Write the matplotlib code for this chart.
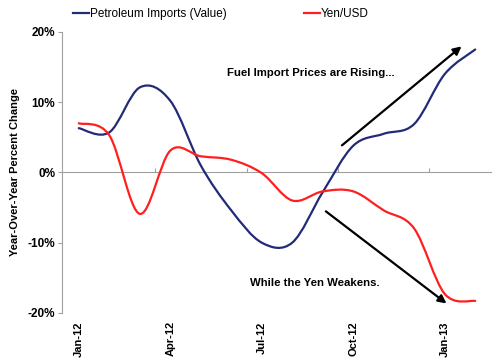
import numpy as np
import matplotlib
matplotlib.use("Agg")
import matplotlib.pyplot as plt
from matplotlib.path import Path
from matplotlib.patches import PathPatch
from matplotlib.lines import Line2D

plt.rcParams['font.family'] = ['Liberation Sans', 'DejaVu Sans']

months = ["Jan-12", "Feb-12", "Mar-12", "Apr-12", "May-12", "Jun-12", "Jul-12",
          "Aug-12", "Sep-12", "Oct-12", "Nov-12", "Dec-12", "Jan-13", "Feb-13"]
petroleum = [6.3, 5.7, 12.1, 10.2, 1.0, -5.4, -10.0, -10.0, -2.8, 3.8, 5.5, 6.9, 14.0, 17.5]
yen_usd = [7.0, 5.3, -5.9, 3.1, 2.3, 1.8, -0.1, -4.0, -2.7, -2.7, -5.4, -8.0, -17.3, -18.3]
tick_months = ["Jan-12", "Apr-12", "Jul-12", "Oct-12", "Jan-13"]

navy = "#232a78"
red = "#ff1f1f"


def smooth_path(xs, ys):
    # excel-style smoothed line: bezier through each point
    pts = np.column_stack([xs, ys]).astype(float)
    n = len(pts)
    verts = [pts[0]]
    codes = [Path.MOVETO]
    for i in range(n - 1):
        p0 = pts[i - 1] if i > 0 else pts[i]
        p1 = pts[i]
        p2 = pts[i + 1]
        p3 = pts[i + 2] if i + 2 < n else pts[i + 1]
        c1 = p1 + (p2 - p0) / 6.0
        c2 = p2 - (p3 - p1) / 6.0
        verts += [c1, c2, p2]
        codes += [Path.CURVE4] * 3
    return Path(verts, codes)


fig = plt.figure(figsize=(5, 3.63), dpi=100)
ax = fig.add_axes([0.124, 0.138, 0.86, 0.774])

x = np.arange(len(months))
for vals, col in [(petroleum, navy), (yen_usd, red)]:
    ax.add_patch(PathPatch(smooth_path(x, vals), facecolor="none",
                           edgecolor=col, lw=1.6, capstyle="round"))

ax.set_xlim(-0.55, 13.55)
ax.set_ylim(-20, 20)
ax.axhline(0, color="#a0a0a0", lw=0.8, zorder=0)

# category ticks on the zero line
zero_axis = ax.secondary_xaxis(0.5)
zero_axis.set_xticks([2.5, 5.5, 8.5, 11.5])
zero_axis.set_xticklabels([])
zero_axis.tick_params(length=3, color="#a0a0a0", width=0.8)
for s in zero_axis.spines.values():
    s.set_visible(False)

ax.set_xticks([months.index(m) for m in tick_months])
ax.set_xticklabels(tick_months, rotation=90, fontsize=8, fontweight="bold")
ax.tick_params(axis="x", length=0, pad=6)

ax.set_yticks([-20, -10, 0, 10, 20])
ax.set_yticklabels(["-20%", "-10%", "0%", "10%", "20%"], fontsize=8.5, fontweight="bold")
ax.tick_params(axis="y", length=3, color="#a0a0a0", width=0.8, pad=2)
ax.set_ylabel("Year-Over-Year Percent Change", fontsize=8, fontweight="bold", labelpad=5)

for s in ["top", "right", "bottom"]:
    ax.spines[s].set_visible(False)
ax.spines["left"].set_color("#a0a0a0")
ax.spines["left"].set_linewidth(0.8)

ax.annotate("", xy=(12.62, 18.2), xytext=(8.56, 3.6),
            arrowprops=dict(arrowstyle="-|>", color="black", lw=1.6, mutation_scale=12))
ax.annotate("", xy=(12.13, -18.9), xytext=(8.03, -5.3),
            arrowprops=dict(arrowstyle="-|>", color="black", lw=1.6, mutation_scale=12))
ax.text(4.85, 14.2, "Fuel Import Prices are Rising...", fontsize=8.2,
        fontweight="bold", va="center", ha="left")
ax.text(5.6, -15.8, "While the Yen Weakens.", fontsize=8.2,
        fontweight="bold", va="center", ha="left")

handles = [Line2D([], [], color=navy, lw=1.6), Line2D([], [], color=red, lw=1.6)]
fig.legend(handles, ["Petroleum Imports (Value)", "Yen/USD"], loc="upper left",
           bbox_to_anchor=(0.13, 1.0), ncol=2, frameon=False, fontsize=8.5,
           handlelength=1.3, handletextpad=0.1, columnspacing=6.6, borderaxespad=0.3)

fig.savefig("out.png", dpi=100)
